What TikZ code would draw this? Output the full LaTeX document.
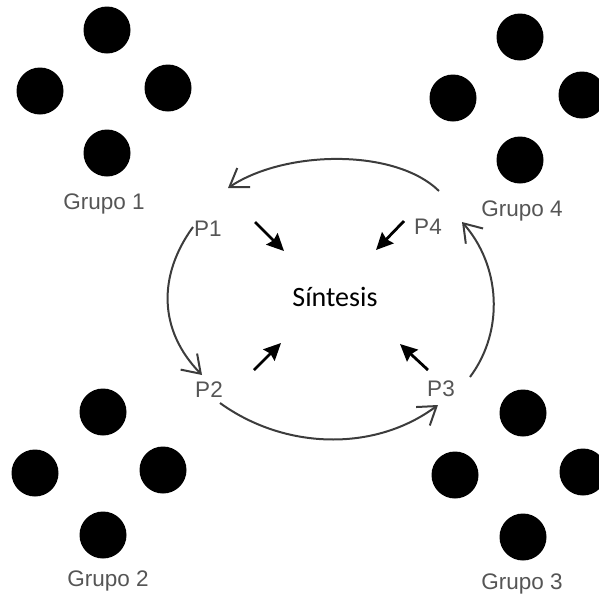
\documentclass[tikz,border=0pt]{standalone}
\usepackage{fontspec}
\setmainfont{Liberation Sans}
\newfontfamily\synfont{Carlito}
\usetikzlibrary{arrows.meta}
\definecolor{lblgray}{HTML}{555555}
\definecolor{linegray}{HTML}{3C3C3C}
\tikzset{
  dot/.style={circle, fill=black, minimum size=47, inner sep=0},
  grp/.style={text=lblgray, font=\fontsize{22.5}{26}\selectfont, inner sep=0},
  plabel/.style={text=lblgray, font=\fontsize{22.5}{26}\selectfont, inner sep=0},
  cyc/.style={draw=linegray, line width=2, -{Straight Barb[length=17, width=23, line width=2]}},
  push/.style={draw=black, line width=2.8, -{Stealth[length=17, width=16, inset=2]}}
}
\begin{document}
\begin{tikzpicture}[x=1pt, y=-1pt]
\useasboundingbox (0,0) rectangle (599,598);
% Grupo 1
\node[dot] (g1t) at (107,30) {};
\node[dot] (g1l) at (40,91) {};
\node[dot] (g1r) at (168,88) {};
\node[dot] (g1b) at (107,153) {};
\node[grp] (g1) at (104,204) {Grupo 1};
% Grupo 4
\node[dot] (g4t) at (520,37) {};
\node[dot] (g4l) at (453,98) {};
\node[dot] (g4r) at (582,95) {};
\node[dot] (g4b) at (520,160) {};
\node[grp] (g4) at (522,211) {Grupo 4};
% Grupo 2
\node[dot] (g2t) at (103,412) {};
\node[dot] (g2l) at (35,473) {};
\node[dot] (g2r) at (163,470) {};
\node[dot] (g2b) at (103,535) {};
\node[grp] (g2) at (108,581) {Grupo 2};
% Grupo 3
\node[dot] (g3t) at (523,413) {};
\node[dot] (g3l) at (455,475) {};
\node[dot] (g3r) at (583,472) {};
\node[dot] (g3b) at (523,537) {};
\node[grp] (g3) at (522,584) {Grupo 3};
% center
\node[font=\synfont\fontsize{28}{32}\selectfont, inner sep=0] (sin) at (335,297) {Síntesis};
\node[plabel] (p1) at (208,229) {P1};
\node[plabel] (p4) at (428,227) {P4};
\node[plabel] (p2) at (209,390) {P2};
\node[plabel] (p3) at (441,389) {P3};
% cycle endpoints
\coordinate (a41) at (439,191);
\coordinate (a14) at (228,188);
\coordinate (a12) at (193,227);
\coordinate (a21) at (202,375);
\coordinate (a23) at (220,403);
\coordinate (a32) at (438,405);
\coordinate (a34) at (470,377);
\coordinate (a43) at (462,222);
\draw[cyc] (a41) .. controls (395,148) and (285,150) .. (a14);
\draw[cyc] (a12) .. controls (158,275) and (158,330) .. (a21);
\draw[cyc] (a23) .. controls (285,450) and (375,452) .. (a32);
\draw[cyc] (a34) .. controls (505,330) and (500,265) .. (a43);
% push arrows
\coordinate (s1) at (255,222); \coordinate (e1) at (284,251);
\coordinate (s4) at (404,221); \coordinate (e4) at (376,250);
\coordinate (s2) at (254,370); \coordinate (e2) at (281,343);
\coordinate (s3) at (428,370); \coordinate (e3) at (400,344);
\draw[push] (s1) -- (e1);
\draw[push] (s4) -- (e4);
\draw[push] (s2) -- (e2);
\draw[push] (s3) -- (e3);
\end{tikzpicture}
\end{document}
